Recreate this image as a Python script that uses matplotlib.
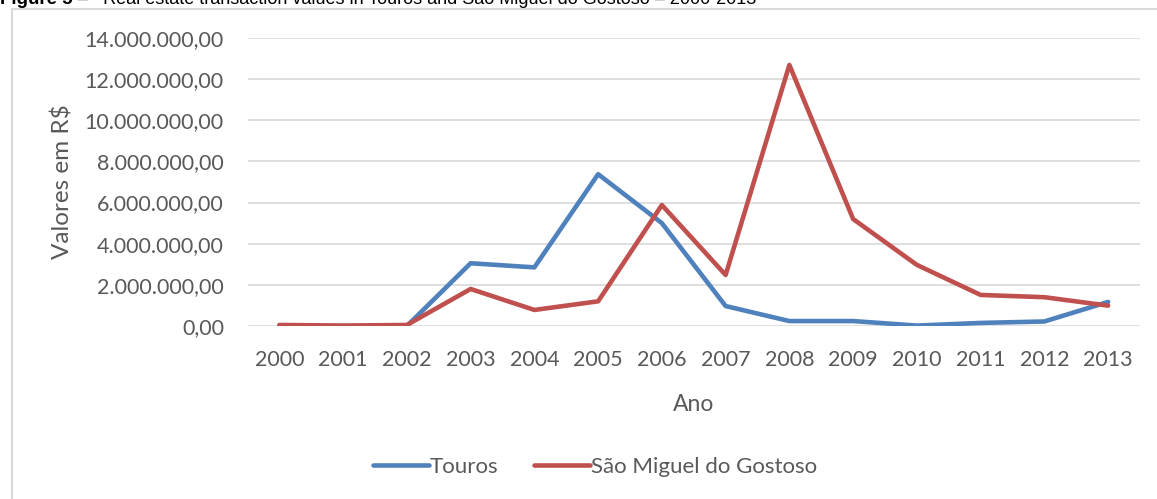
import matplotlib
matplotlib.use("Agg")
import matplotlib.pyplot as plt
import numpy as np
from matplotlib.patches import Rectangle
from matplotlib.ticker import FuncFormatter

anos = ["2000", "2001", "2002", "2003", "2004", "2005", "2006",
        "2007", "2008", "2009", "2010", "2011", "2012", "2013"]
touros = [0, 0, 0, 3050000, 2850000, 7380000, 5000000,
          970000, 240000, 240000, 20000, 150000, 220000, 1170000]
sao_miguel = [50000, 20000, 50000, 1800000, 780000, 1200000, 5880000,
              2480000, 12690000, 5200000, 2970000, 1510000, 1400000, 990000]

azul = "#4F81BD"
vermelho = "#C0504D"
cinza = "#595959"

plt.rcParams['font.family'] = ['Lato', 'DejaVu Sans']

W, H = 1157, 499
fig = plt.figure(figsize=(W / 100, H / 100), dpi=100)

# moldura do grafico (corte do documento)
fig.patches.append(Rectangle((11.5 / W, -0.1), 1.2, 1 - 9.5 / H + 0.1,
                             transform=fig.transFigure, fill=False,
                             edgecolor="#d9d9d9", lw=1.5, clip_on=False))

# legenda da figura, cortada no topo como no original
fig.text(0.0, 1 - 3.5 / H, "Figure 5", fontsize=13.5, fontweight="bold",
         family="Liberation Sans", va="baseline", ha="left")
fig.text(78 / W, 1 - 3.5 / H,
         "\u2013   Real estate transaction values in Touros and São Miguel do Gostoso \u2013 2000-2013",
         fontsize=13, family="Liberation Sans", va="baseline", ha="left")

ax = fig.add_axes([247.5 / W, 1 - 326 / H, 892.5 / W, 288 / H])
x = np.arange(len(anos))
ax.plot(x, touros, color=azul, lw=3.3, label="Touros", solid_capstyle="round")
ax.plot(x, sao_miguel, color=vermelho, lw=3.3, label="São Miguel do Gostoso",
        solid_capstyle="round")

ax.set_xlim(-0.5, len(anos) - 0.5)
ax.set_ylim(0, 14000000)
ax.set_yticks(np.arange(0, 14000001, 2000000))
ax.yaxis.set_major_formatter(FuncFormatter(
    lambda v, p: f"{v:,.2f}".replace(",", "X").replace(".", ",").replace("X", ".")))
ax.set_xticks(x)
ax.set_xticklabels(anos)
ax.grid(axis="y", color="#d9d9d9", lw=1.2)
ax.set_axisbelow(True)
for s in ax.spines.values():
    s.set_visible(False)
ax.tick_params(length=0, labelsize=15.5, colors=cinza)
ax.tick_params(axis="y", pad=17)
ax.tick_params(axis="x", pad=17.5)

ax.set_xlabel("Ano", fontsize=16.5, color=cinza, labelpad=17)
fig.text(63 / W, 1 - 182 / H, "Valores em R$", rotation=90, fontsize=17.5,
         color=cinza, ha="center", va="center")

fig.legend(loc="center", bbox_to_anchor=(595 / W, 1 - 467 / H), ncol=2,
           frameon=False, fontsize=16, labelcolor=cinza, handlelength=2.5,
           handletextpad=0.05, columnspacing=1.6)

fig.savefig("out.png", dpi=100)
